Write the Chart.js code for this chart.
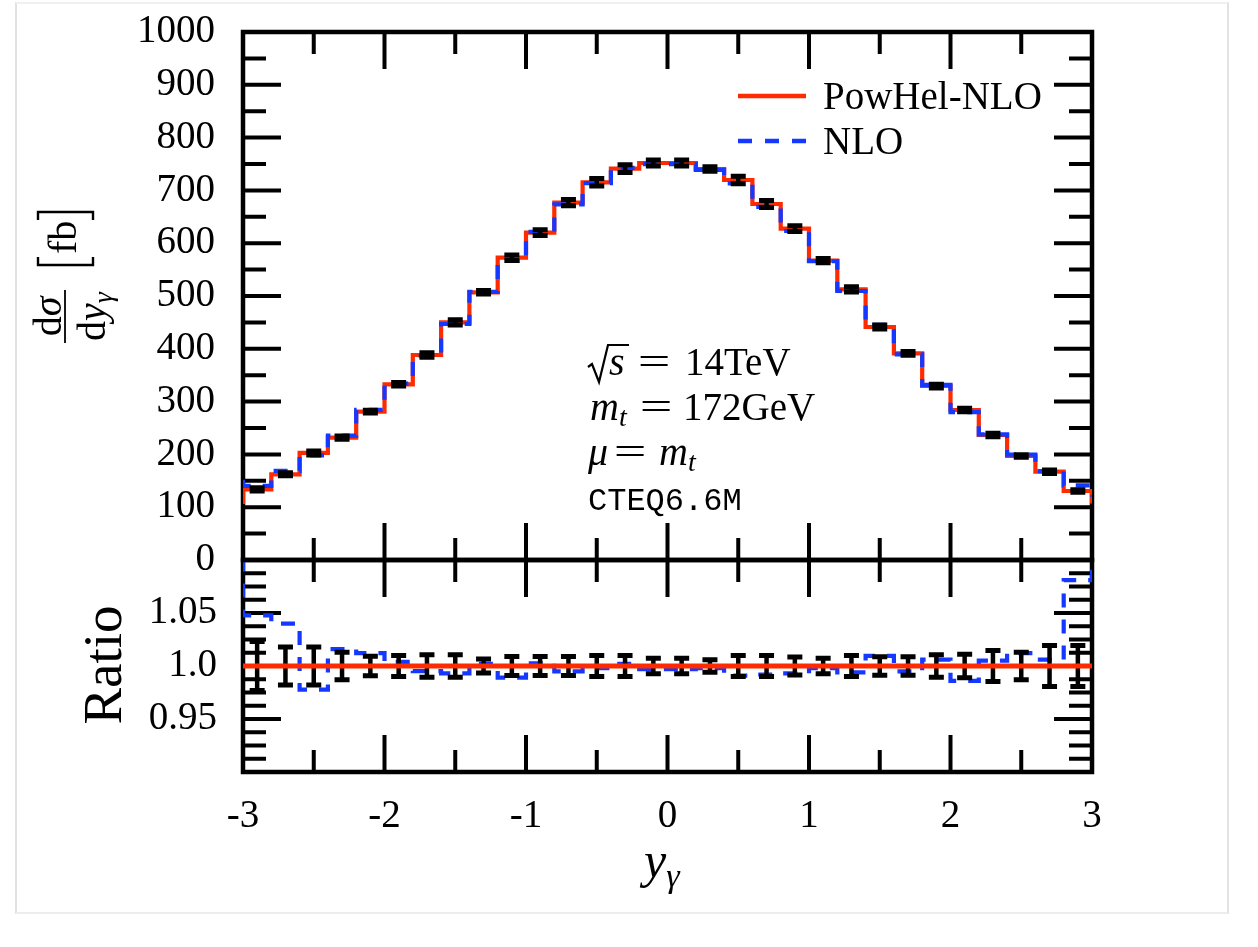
<!DOCTYPE html>
<html>
<head>
<meta charset="utf-8">
<title>PowHel-NLO photon rapidity</title>
<script src="https://cdn.jsdelivr.net/npm/chart.js@4.4.1/dist/chart.umd.min.js"></script>
<style>
  html, body { margin: 0; padding: 0; background: #fff; }
  #wrap { position: relative; width: 1258px; height: 947px; overflow: hidden; background: #fff; }
  #frame { position: absolute; left: 15px; top: 2px; width: 1210px; height: 908px;
           border-left: 2px solid #e2e2e2; border-right: 2px solid #e2e2e2;
           border-top: 2px solid #f0f0f0; border-bottom: 2px solid #ededed; }
  canvas { position: absolute; left: 0; }
  #ratio { top: 530px; }
  #main { top: 0; }
</style>
</head>
<body>
<div id="wrap">
  <div id="frame"></div>
  <canvas id="ratio" width="1258" height="417"></canvas>
  <canvas id="main" width="1258" height="600"></canvas>
</div>
<script>
// Bin edges of the y_gamma histogram (outermost bins lie just outside the plotted range)
const binEdges = [-3.2, -3.0, -2.8, -2.6, -2.4, -2.2, -2.0, -1.8, -1.6, -1.4, -1.2,
                  -1.0, -0.8, -0.6, -0.4, -0.2, 0.0, 0.2, 0.4, 0.6, 0.8, 1.0,
                  1.2, 1.4, 1.6, 1.8, 2.0, 2.2, 2.4, 2.6, 2.8, 3.0, 3.2];

// dsigma/dy_gamma [fb], one value per bin
const powhelNLO = [110.0, 133.9, 162.3, 202.7, 231.7, 280.9, 332.7, 388.3, 450.1, 507.0,
                   572.6, 620.0, 676.8, 715.3, 741.2, 751.9, 751.9, 740.5, 719.7, 674.2,
                   627.5, 566.9, 512.6, 441.3, 391.4, 329.5, 284.1, 236.7, 197.0, 167.3,
                   130.7, 107.0];
const nloValues = [148.0, 140.3, 168.8, 198.2, 235.4, 284.3, 334.0, 386.4, 447.0, 508.0,
                   566.3, 621.6, 673.4, 713.9, 742.7, 749.6, 749.6, 739.0, 713.2, 668.8,
                   623.1, 565.8, 509.5, 445.5, 389.4, 331.5, 280.1, 237.9, 199.4, 168.3,
                   141.3, 120.0];
// relative statistical uncertainty of PowHel-NLO (null = bin not shown)
const relErrors = [null, 0.023, 0.018, 0.018, 0.013, 0.0093, 0.0098, 0.0107, 0.0107, 0.0066,
                   0.009, 0.009, 0.009, 0.0099, 0.010, 0.0074, 0.0074, 0.0058, 0.0098, 0.0098,
                   0.0085, 0.0073, 0.0098, 0.0087, 0.0087, 0.0107, 0.011, 0.0147, 0.013, 0.0194,
                   0.0194, null];

// Axis ticks
const xTickValues = [-3, -2, -1, 0, 1, 2, 3];
const xMinorTicks = [-2.5, -1.5, -0.5, 0.5, 1.5, 2.5];
const yTickValues = [0, 100, 200, 300, 400, 500, 600, 700, 800, 900, 1000];
const yMinorTicks = [50, 150, 250, 350, 450, 550, 650, 750, 850, 950];
const ratioTickValues = [0.95, 1.0, 1.05];
const ratioTickLabels = ['0.95', '1.0', '1.05'];
const ratioMajorTicks = [0.9, 0.95, 1.0, 1.05, 1.1];
const ratioMinorTicks = [];
for (let k = 1; k < 16; k++) if (k % 4) ratioMinorTicks.push(+(0.9 + 0.0125 * k).toFixed(4));

const RED = '#ff2b00';
const BLUE = '#1438ff';
const SERIF = "'Liberation Serif', 'Times New Roman', serif";

const binCenters = binEdges.slice(0, -1).map((x, i) => (x + binEdges[i + 1]) / 2);
const ratioNLO = nloValues.map((v, i) => v / powhelNLO[i]);
const ratioPowhel = powhelNLO.map(v => v / v);

// histogram outline: one point per left edge, plus the last right edge
function stepPoints(vals) {
  return binEdges.map((x, i) => ({ x, y: vals[Math.min(i, vals.length - 1)] }));
}

// keep the plot area exactly where the layout padding puts it
function fixAxis(size, horizontal) {
  return s => {
    if (horizontal) s.height = size; else s.width = size;
    s.paddingTop = 0; s.paddingBottom = 0; s.paddingLeft = 0; s.paddingRight = 0;
  };
}

// frame with inward ticks on all four sides
function framePlugin(xMaj, xMin, yMaj, yMin) {
  return {
    id: 'frame',
    beforeDatasetsDraw(chart) {
      const { ctx, chartArea: a, scales: { x, y } } = chart;
      ctx.save();
      ctx.strokeStyle = '#000';
      ctx.lineWidth = 4;
      ctx.lineCap = 'butt';
      ctx.beginPath();
      const xt = (v, L) => {
        const p = x.getPixelForValue(v);
        ctx.moveTo(p, a.top); ctx.lineTo(p, a.top + L);
        ctx.moveTo(p, a.bottom); ctx.lineTo(p, a.bottom - L);
      };
      const yt = (v, L) => {
        const p = y.getPixelForValue(v);
        ctx.moveTo(a.left, p); ctx.lineTo(a.left + L, p);
        ctx.moveTo(a.right, p); ctx.lineTo(a.right - L, p);
      };
      xMaj.forEach(v => xt(v, 37)); xMin.forEach(v => xt(v, 22));
      yMaj.forEach(v => yt(v, 38)); yMin.forEach(v => yt(v, 23));
      ctx.stroke();
      ctx.lineWidth = 4.5;
      ctx.strokeRect(a.left, a.top, a.right - a.left, a.bottom - a.top);
      ctx.restore();
    }
  };
}

// black error bars with caps at the bin centres
function errorBarPlugin(values, errors, beforeIndex) {
  const draw = (chart) => {
    const { ctx, scales: { x, y } } = chart;
    ctx.save();
    ctx.strokeStyle = '#000';
    ctx.lineCap = 'butt';
    binCenters.forEach((c, i) => {
      const e = errors[i];
      if (e == null) return;
      const px = x.getPixelForValue(c);
      const hi = y.getPixelForValue(values[i] + e);
      const lo = y.getPixelForValue(values[i] - e);
      ctx.lineWidth = 4.5;
      ctx.beginPath(); ctx.moveTo(px, hi); ctx.lineTo(px, lo); ctx.stroke();
      ctx.lineWidth = 5;
      ctx.beginPath();
      ctx.moveTo(px - 7.5, hi); ctx.lineTo(px + 7.5, hi);
      ctx.moveTo(px - 7.5, lo); ctx.lineTo(px + 7.5, lo);
      ctx.stroke();
    });
    ctx.restore();
  };
  return {
    id: 'errorBars',
    beforeDatasetDraw(chart, args) { if (beforeIndex === args.index) draw(chart); },
    afterDatasetsDraw(chart) { if (beforeIndex == null) draw(chart); }
  };
}

function drawParts(ctx, parts, x0, base) {
  let x = x0;
  parts.forEach(p => {
    ctx.font = p.font;
    if (p.x != null) x = p.x;
    ctx.fillText(p.t, x, base + (p.dy || 0));
    x += ctx.measureText(p.t).width;
  });
}

function drawEquals(ctx, cx, base) {
  ctx.save();
  ctx.font = '40px ' + SERIF;
  ctx.translate(cx, base);
  ctx.scale(1.45, 1);
  ctx.textAlign = 'center';
  ctx.fillText('=', 0, 0);
  ctx.restore();
}

// legend, run parameters and the y-axis title of the upper panel
const mainDecor = {
  id: 'mainDecor',
  afterDraw(chart) {
    const ctx = chart.ctx;
    ctx.save();
    ctx.fillStyle = '#000';
    ctx.textBaseline = 'alphabetic';

    // legend
    const [nloSet, phSet] = chart.data.datasets;
    ctx.lineCap = 'butt';
    ctx.lineWidth = 4.5;
    ctx.strokeStyle = phSet.borderColor;
    ctx.beginPath(); ctx.moveTo(738, 96); ctx.lineTo(806, 96); ctx.stroke();
    ctx.strokeStyle = nloSet.borderColor;
    ctx.setLineDash([14, 13]);
    ctx.beginPath(); ctx.moveTo(738, 141); ctx.lineTo(806, 141); ctx.stroke();
    ctx.setLineDash([]);
    ctx.font = '39px ' + SERIF;
    ctx.fillText(phSet.label, 823, 109);
    ctx.fillText(nloSet.label, 823, 154);

    // sqrt(s) = 14TeV
    ctx.strokeStyle = '#000';
    ctx.lineWidth = 2.2;
    ctx.lineJoin = 'miter';
    ctx.beginPath();
    ctx.moveTo(588, 367); ctx.lineTo(592, 364); ctx.lineTo(599, 382);
    ctx.lineTo(608, 345); ctx.lineTo(629, 345);
    ctx.stroke();
    drawParts(ctx, [{ t: 's', font: 'italic 40px ' + SERIF }], 609, 375);
    drawEquals(ctx, 654, 375);
    drawParts(ctx, [{ t: '14TeV', font: '39px ' + SERIF }], 685, 375);

    // m_t = 172GeV
    drawParts(ctx, [{ t: 'm', font: 'italic 40px ' + SERIF },
                    { t: 't', font: 'italic 28px ' + SERIF, dy: 6 }], 590, 420);
    drawEquals(ctx, 656, 420);
    drawParts(ctx, [{ t: '172GeV', font: '39px ' + SERIF }], 683, 420);

    // mu = m_t
    drawParts(ctx, [{ t: '\u03bc', font: 'italic 40px ' + SERIF }], 588, 465);
    drawEquals(ctx, 630, 465);
    drawParts(ctx, [{ t: 'm', font: 'italic 40px ' + SERIF },
                    { t: 't', font: 'italic 28px ' + SERIF, dy: 6 }], 659, 465);

    // PDF set
    ctx.font = "32px 'Liberation Mono', 'DejaVu Sans Mono', monospace";
    ctx.fillText('CTEQ6.6M', 588, 510);

    // y-axis title: dsigma/dy_gamma [fb]
    ctx.translate(65, 343);
    ctx.rotate(-Math.PI / 2);
    ctx.fillRect(0, -0.9, 53, 1.8);
    const rom = '40px ' + SERIF, ita = 'italic 40px ' + SERIF, sub = 'italic 28px ' + SERIF;
    const width = (parts) => parts.reduce((w, p) => { ctx.font = p.font; return w + ctx.measureText(p.t).width; }, 0);
    const num = [{ t: 'd', font: rom }, { t: '\u03c3', font: ita }];
    const den = [{ t: 'd', font: rom }, { t: 'y', font: ita }, { t: '\u03b3', font: sub, dy: 7 }];
    drawParts(ctx, num, 26.5 - width(num) / 2, -4);
    drawParts(ctx, den, 26.5 - width(den) / 2, 40);
    ctx.lineWidth = 2.4;
    ctx.beginPath();
    ctx.moveTo(86, -27); ctx.lineTo(78, -27); ctx.lineTo(78, 28); ctx.lineTo(86, 28);
    ctx.moveTo(123, -27); ctx.lineTo(131, -27); ctx.lineTo(131, 28); ctx.lineTo(123, 28);
    ctx.stroke();
    drawParts(ctx, [{ t: 'fb', font: rom }], 89, 11);
    ctx.restore();
  }
};

// titles of the ratio panel and of the x axis
const ratioDecor = {
  id: 'ratioDecor',
  afterDraw(chart) {
    const ctx = chart.ctx;
    ctx.save();
    ctx.fillStyle = '#000';
    ctx.textBaseline = 'alphabetic';
    drawParts(ctx, [{ t: 'y', font: 'italic 50px ' + SERIF },
                    { t: '\u03b3', font: 'italic 34px ' + SERIF, dy: 10 }], 644, 347);
    ctx.translate(121, 135);
    ctx.rotate(-Math.PI / 2);
    ctx.font = '55px ' + SERIF;
    ctx.textAlign = 'center';
    ctx.fillText('Ratio', 0, 0);
    ctx.restore();
  }
};

const tickFont = { family: SERIF, size: 39 };
const lineBase = { pointRadius: 0, fill: false, stepped: 'before', borderJoinStyle: 'miter', borderCapStyle: 'butt' };

new Chart(document.getElementById('main'), {
  type: 'line',
  data: {
    datasets: [
      { ...lineBase, label: 'NLO', data: stepPoints(nloValues), borderColor: BLUE, borderWidth: 4.2, borderDash: [14, 12] },
      { ...lineBase, label: 'PowHel-NLO', data: stepPoints(powhelNLO), borderColor: RED, borderWidth: 4.2 }
    ]
  },
  options: {
    responsive: false, animation: false, events: [],
    layout: { padding: { top: 32, right: 166, bottom: 40, left: 0 } },
    plugins: { legend: { display: false }, tooltip: { enabled: false } },
    scales: {
      x: { type: 'linear', min: -3, max: 3, display: false },
      y: {
        type: 'linear', min: 0, max: 1000, position: 'left',
        afterFit: fixAxis(243, false),
        afterBuildTicks: s => { s.ticks = yTickValues.map(v => ({ value: v })); },
        grid: { display: false, drawTicks: false }, border: { display: false },
        ticks: { padding: 28, color: '#000', font: tickFont, autoSkip: false, callback: v => String(v) }
      }
    }
  },
  plugins: [framePlugin(xTickValues, xMinorTicks, yTickValues, yMinorTicks),
            errorBarPlugin(powhelNLO, powhelNLO.map((v, i) => relErrors[i] == null ? null : v * relErrors[i]), null),
            mainDecor]
});

new Chart(document.getElementById('ratio'), {
  type: 'line',
  data: {
    datasets: [
      { ...lineBase, label: 'PowHel-NLO', data: stepPoints(ratioPowhel), borderColor: RED, borderWidth: 4.8 },
      { ...lineBase, label: 'NLO', data: stepPoints(ratioNLO), borderColor: BLUE, borderWidth: 4.2, borderDash: [14, 12] }
    ]
  },
  options: {
    responsive: false, animation: false, events: [],
    layout: { padding: { top: 30, right: 166, bottom: 0, left: 0 } },
    plugins: { legend: { display: false }, tooltip: { enabled: false } },
    scales: {
      x: {
        type: 'linear', min: -3, max: 3, position: 'bottom',
        afterFit: fixAxis(175, true),
        afterBuildTicks: s => { s.ticks = xTickValues.map(v => ({ value: v })); },
        grid: { display: false, drawTicks: false }, border: { display: false },
        ticks: { padding: 21, color: '#000', font: tickFont, autoSkip: false, maxRotation: 0, callback: v => String(v) }
      },
      y: {
        type: 'linear', min: 0.9, max: 1.1, position: 'left',
        afterFit: fixAxis(243, false),
        afterBuildTicks: s => { s.ticks = ratioTickValues.map(v => ({ value: v })); },
        grid: { display: false, drawTicks: false }, border: { display: false },
        ticks: { padding: 26, color: '#000', font: tickFont, autoSkip: false, callback: (v, i) => ratioTickLabels[i] }
      }
    }
  },
  plugins: [framePlugin(xTickValues, xMinorTicks, ratioMajorTicks, ratioMinorTicks),
            errorBarPlugin(ratioPowhel, relErrors, 0),
            ratioDecor]
});
</script>
</body>
</html>
